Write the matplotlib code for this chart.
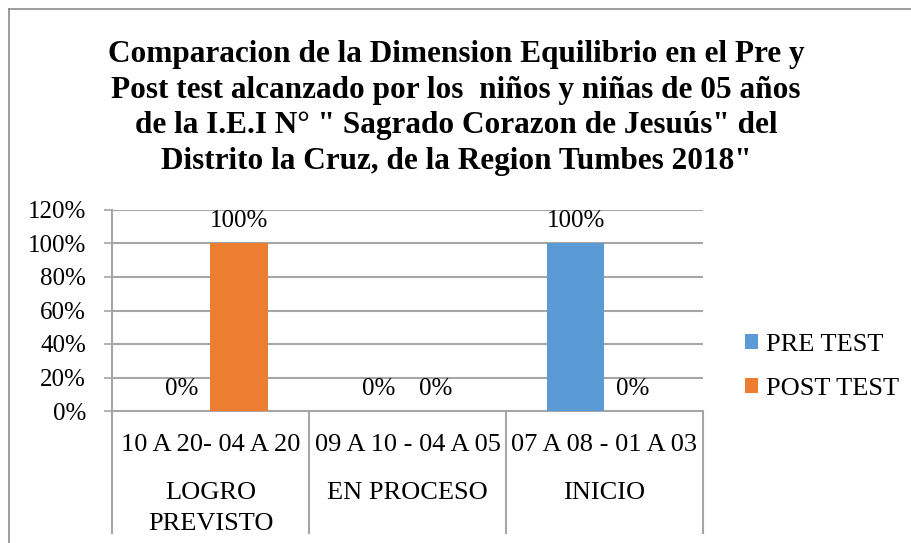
import os
import matplotlib
matplotlib.use("Agg")
import matplotlib.pyplot as plt
from matplotlib.lines import Line2D
from matplotlib.font_manager import FontProperties
import numpy as np

FDIR = '/usr/share/fonts/truetype/liberation/'


def fp(size, bold=False):
    path = FDIR + ('LiberationSerif-Bold.ttf' if bold else 'LiberationSerif-Regular.ttf')
    if os.path.exists(path):
        return FontProperties(fname=path, size=size)
    return FontProperties(family='Liberation Serif', size=size,
                          weight='bold' if bold else 'normal')


plt.rcParams['font.family'] = 'serif'
plt.rcParams['font.serif'] = ['Liberation Serif', 'DejaVu Serif']

ranges = ["10 A 20- 04 A 20", "09 A 10 - 04 A 05", "07 A 08 - 01 A 03"]
levels = ["LOGRO\nPREVISTO", "EN PROCESO", "INICIO"]
pre_test = [0, 0, 100]
post_test = [100, 0, 0]
series_names = ["PRE TEST", "POST TEST"]
yticks = [0, 20, 40, 60, 80, 100, 120]
title = ("Comparacion de la Dimension Equilibrio en el Pre y\n"
         "Post test alcanzado por los  niños y niñas de 05 años\n"
         "de la I.E.I N° \" Sagrado Corazon de Jesuús\" del\n"
         "Distrito la Cruz, de la Region Tumbes 2018\"")

W, H = 912, 543
fig = plt.figure(figsize=(W / 100, H / 100), dpi=100)
fig.patch.set_facecolor('white')

# outer chart border (top and left visible)
fig.add_artist(Line2D([9 / W, 1.0], [1 - 9 / H, 1 - 9 / H], color='#8c8c8c', lw=1.2, transform=fig.transFigure))
fig.add_artist(Line2D([9 / W, 9 / W], [1 - 9 / H, 0.0], color='#8c8c8c', lw=1.2, transform=fig.transFigure))

left, right, top, bottom = 112, 703, 210, 411
ax = fig.add_axes([left / W, 1 - bottom / H, (right - left) / W, (bottom - top) / H])

x = np.arange(len(ranges))
bw = 0.29
grid_c = '#A6A6A6'
b1 = ax.bar(x - bw / 2, pre_test, bw, color='#5B9BD5', label=series_names[0], zorder=3)
b2 = ax.bar(x + bw / 2, post_test, bw, color='#ED7D31', label=series_names[1], zorder=3)

ax.set_xlim(-0.5, len(ranges) - 0.5)
ax.set_ylim(0, 120)
ax.set_yticks(yticks)
ax.set_yticklabels([f"{v}%" for v in yticks], fontproperties=fp(18))
ax.set_xticks([])
ax.tick_params(axis='y', length=5.8, width=1.2, color=grid_c, pad=13)
for v in yticks[1:]:
    ax.axhline(v, color=grid_c, lw=1.5, zorder=1)
for s in ['top', 'right']:
    ax.spines[s].set_visible(False)
for s in ['left', 'bottom']:
    ax.spines[s].set_color(grid_c)
    ax.spines[s].set_linewidth(1.5)

# data labels
for bars, vals in [(b1, pre_test), (b2, post_test)]:
    for rect, v in zip(bars, vals):
        ax.annotate(f"{v}%", xy=(rect.get_x() + rect.get_width() / 2, v),
                    xytext=(0, 16), textcoords='offset points',
                    ha='center', va='center', fontproperties=fp(18))

# multi-level category axis
for i, (r, l) in enumerate(zip(ranges, levels)):
    ax.annotate(r, xy=(i, 0), xycoords=('data', 'axes fraction'),
                xytext=(0, -24.5), textcoords='offset points',
                ha='center', va='center', fontproperties=fp(19),
                annotation_clip=False)
    ax.annotate(l, xy=(i, 0), xycoords=('data', 'axes fraction'),
                xytext=(0, -51.3), textcoords='offset points',
                ha='center', va='top', fontproperties=fp(19), linespacing=1.5,
                annotation_clip=False)
for b in np.arange(len(ranges) + 1) - 0.5:
    ax.plot([b, b], [0, -0.607], color=grid_c, lw=1.5,
            transform=ax.get_xaxis_transform(), clip_on=False)

fig.text(456 / W, 1 - 108 / H, title, ha='center', va='center',
         fontproperties=fp(22.5, bold=True), linespacing=1.31)

leg = fig.legend(handles=[b1, b2], loc='center left',
                 bbox_to_anchor=(732 / W, 1 - 367 / H), frameon=False,
                 prop=fp(19), handlelength=0.5,
                 handleheight=0.5, handletextpad=0.3, labelspacing=0.85,
                 borderpad=0)

fig.savefig('out.png', dpi=100, facecolor='white')
